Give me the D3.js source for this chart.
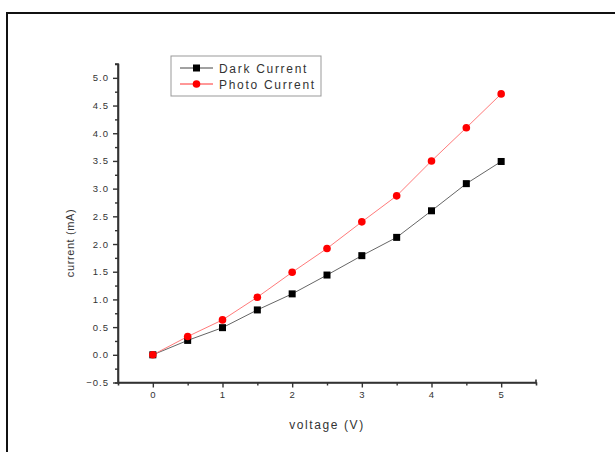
<!DOCTYPE html>
<html>
<head>
<meta charset="utf-8">
<script src="https://cdn.jsdelivr.net/npm/d3@7"></script>
<style>
  body { margin: 0; background: #fff; }
  svg { display: block; font-family: "Liberation Sans", Arial, sans-serif; }
</style>
</head>
<body>
<div id="chart"></div>
<script>
// voltage (V)
var voltage = [0, 0.5, 1, 1.5, 2, 2.5, 3, 3.5, 4, 4.5, 5];
// current (mA)
var darkCurrent  = [0, 0.26, 0.49, 0.81, 1.1, 1.44, 1.79, 2.12, 2.6, 3.09, 3.49];
var photoCurrent = [0, 0.33, 0.63, 1.04, 1.49, 1.92, 2.4, 2.87, 3.5, 4.1, 4.71];
var xTicks = [0, 1, 2, 3, 4, 5];
var yTicks = [-0.5, 0, 0.5, 1, 1.5, 2, 2.5, 3, 3.5, 4, 4.5, 5];
var legendNames = ["Dark Current", "Photo Current"];

var width = 615, height = 452;

var svg = d3.select("#chart").append("svg")
  .attr("width", width)
  .attr("height", height);

// outer frame
svg.append("rect")
  .attr("x", 7).attr("y", 13)
  .attr("width", 640).attr("height", 480)
  .attr("fill", "none")
  .attr("stroke", "#111")
  .attr("stroke-width", 2);

var x = d3.scaleLinear().domain([-0.5, 5.5]).range([118, 536]);
var y = d3.scaleLinear().domain([-0.5, 5.25]).range([382.5, 64]);

var axisColor = "#333";

// x axis
var gx = svg.append("g").attr("transform", "translate(0," + y.range()[0] + ")");
gx.call(d3.axisBottom(x).tickValues(xTicks).tickSize(5).tickPadding(4).tickFormat(d3.format("d")));
gx.append("g").call(d3.axisBottom(x).tickValues(d3.range(0.5, 5, 1)).tickSize(3).tickFormat(""));
gx.selectAll(".domain").attr("stroke", axisColor).attr("stroke-width", 1.6);
gx.selectAll("g.tick line").attr("stroke", axisColor).attr("stroke-width", 1.4);
gx.selectAll("text").attr("fill", "#333").style("font-size", "9.5px").style("letter-spacing", "1px");
gx.select(".domain").attr("d", "M" + x.range()[0] + ",0H" + x.range()[1] + "V-3");

// y axis
var gy = svg.append("g").attr("transform", "translate(" + x.range()[0] + ",0)");
gy.call(d3.axisLeft(y).tickValues(yTicks).tickSize(5).tickPadding(4).tickFormat(d3.format(".1f")));
gy.append("g").call(d3.axisLeft(y).tickValues(d3.range(-0.25, 5.25, 0.5)).tickSize(3).tickFormat(""));
gy.selectAll(".domain").attr("stroke", axisColor).attr("stroke-width", 1.6);
gy.selectAll("g.tick line").attr("stroke", axisColor).attr("stroke-width", 1.4);
gy.selectAll("text").attr("fill", "#333").style("font-size", "9.5px").style("letter-spacing", "1px");
gy.select(".domain").attr("d", "M-3," + y.range()[1] + "H0V" + y.range()[0]);

// axis titles
svg.append("text")
  .attr("x", 327).attr("y", 429)
  .attr("text-anchor", "middle")
  .attr("fill", "#333")
  .style("font-size", "12px").style("letter-spacing", "1.6px")
  .text("voltage (V)");

svg.append("text")
  .attr("transform", "translate(74,243) rotate(-90)")
  .attr("text-anchor", "middle")
  .attr("fill", "#333")
  .style("font-size", "11px").style("letter-spacing", "0.6px")
  .text("current (mA)");

var line = d3.line()
  .x(function(d) { return x(d[0]); })
  .y(function(d) { return y(d[1]); });

var darkData = voltage.map(function(v, i) { return [v, darkCurrent[i]]; });
var photoData = voltage.map(function(v, i) { return [v, photoCurrent[i]]; });

svg.append("path").datum(darkData)
  .attr("d", line).attr("fill", "none")
  .attr("stroke", "#666").attr("stroke-width", 1);

svg.append("path").datum(photoData)
  .attr("d", line).attr("fill", "none")
  .attr("stroke", "#ff7a7a").attr("stroke-width", 1);

svg.selectAll("rect.dark")
  .data(darkData)
  .enter()
  .append("rect")
  .attr("class", "dark")
  .attr("x", function(d) { return x(d[0]) - 3.5; })
  .attr("y", function(d) { return y(d[1]) - 3.5; })
  .attr("width", 7).attr("height", 7)
  .attr("fill", "#000");

svg.selectAll("circle.photo")
  .data(photoData)
  .enter()
  .append("circle")
  .attr("class", "photo")
  .attr("cx", function(d) { return x(d[0]); })
  .attr("cy", function(d) { return y(d[1]); })
  .attr("r", 3.8)
  .attr("fill", "#ff0000");

// legend
var legend = svg.append("g");
legend.append("rect")
  .attr("x", 171).attr("y", 56)
  .attr("width", 150).attr("height", 40)
  .attr("fill", "#fff")
  .attr("stroke", "#999").attr("stroke-width", 1);

legendNames.forEach(function(name, i) {
  var ly = 68 + i * 16;
  legend.append("line")
    .attr("x1", 180).attr("x2", 213)
    .attr("y1", ly).attr("y2", ly)
    .attr("stroke", i === 0 ? "#444" : "#ff3030").attr("stroke-width", 1);
  if (i === 0) {
    legend.append("rect")
      .attr("x", 193).attr("y", ly - 3.5)
      .attr("width", 7).attr("height", 7)
      .attr("fill", "#000");
  } else {
    legend.append("circle")
      .attr("cx", 196.5).attr("cy", ly).attr("r", 3.8)
      .attr("fill", "#ff0000");
  }
  legend.append("text")
    .attr("x", 219).attr("y", ly + 4.5)
    .attr("fill", "#333")
    .style("font-size", "12px").style("letter-spacing", "1.7px")
    .text(name);
});
</script>
</body>
</html>
